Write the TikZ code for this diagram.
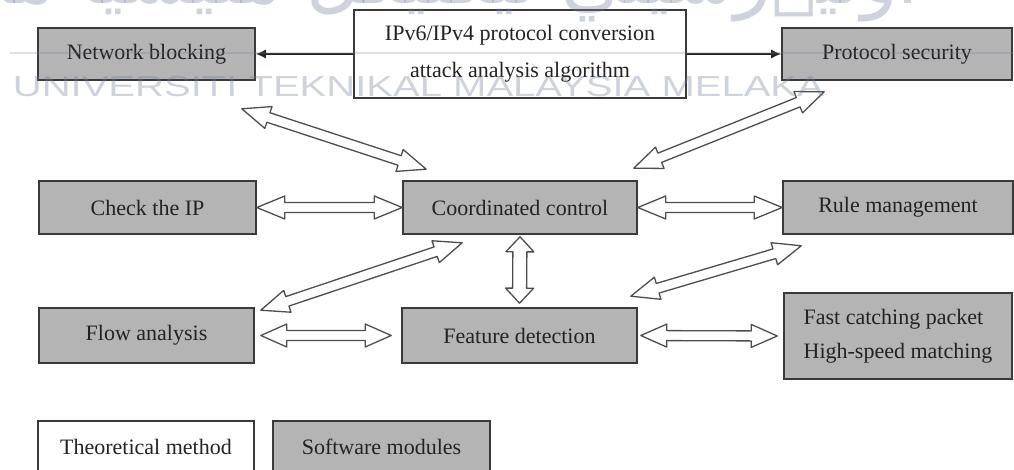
\documentclass[tikz,border=0pt]{standalone}
\usepackage{fontspec}
\setmainfont{Liberation Serif}
\newfontfamily\wmsans{Liberation Sans}
\newfontfamily\jawifont[Script=Arabic]{DejaVu Sans}
\TeXXeTstate=1
\usetikzlibrary{calc,arrows.meta}

\definecolor{boxgrey}{RGB}{180,180,180}
\definecolor{edgegrey}{RGB}{58,58,58}
\definecolor{inkgrey}{RGB}{35,35,35}
\definecolor{arrowline}{RGB}{78,78,78}
\definecolor{wmblue}{RGB}{112,128,160}

\tikzset{
  module/.style={draw=edgegrey, line width=1.6pt, fill=boxgrey, text=inkgrey,
    font=\fontsize{22}{26}\selectfont, inner sep=0pt, minimum height=53pt},
  method/.style={module, fill=white, line width=1.4pt},
  harrow/.style={draw=arrowline, line width=1.3pt, fill=white, line join=round},
  thinarrow/.style={draw=inkgrey, line width=1.4pt, -{Latex[length=10pt,width=9pt]}},
  watermark/.style={text=wmblue, text opacity=0.35},
}

% hollow double-headed arrow between two points:
% #1 start, #2 end, #3 head length, #4 head half width, #5 shaft half width
\newcommand\hollowarrow[5]{%
  \path (#1) coordinate (tA) (#2) coordinate (tB);
  \coordinate (hA) at ($(tA)!#3!(tB)$);
  \coordinate (hB) at ($(tB)!#3!(tA)$);
  \draw[harrow] (tA)
    -- ($(hA)!#4!90:(tB)$) -- ($(hA)!#5!90:(tB)$)
    -- ($(hB)!#5!-90:(tA)$) -- ($(hB)!#4!-90:(tA)$)
    -- (tB)
    -- ($(hB)!#4!90:(tA)$) -- ($(hB)!#5!90:(tA)$)
    -- ($(hA)!#5!-90:(tB)$) -- ($(hA)!#4!-90:(tB)$)
    -- cycle;
}

\begin{document}
\begin{tikzpicture}[x=1pt,y=-1pt]
\useasboundingbox (0,0) rectangle (1014,470);
\clip (0,0) rectangle (1014,470);
\fill[white] (0,0) rectangle (1014,470);

% modules and methods
\node[module, minimum width=217pt, minimum height=52pt] (nb) at (146.5,54) {Network blocking};
\node[method, minimum width=332pt, minimum height=88pt, align=center,
      font=\fontsize{22}{37}\selectfont] (ipv) at (520,54)
      {IPv6/IPv4 protocol conversion\\attack analysis algorithm};
\node[module, minimum width=230pt, minimum height=52pt] (ps) at (897,54) {Protocol security};

\node[module, minimum width=217pt] (chk) at (147.5,207.5) {Check the IP};
\node[module, minimum width=234pt] (cc) at (520,207.5) {Coordinated control};
\node[module, minimum width=230pt] (rm) at (898,207.5) {Rule management};

\node[module, minimum width=215pt, minimum height=55pt] (fa) at (146.5,335.5) {Flow analysis};
\node[module, minimum width=235pt, minimum height=55pt] (fd) at (519.5,335.5) {Feature detection};
\node[module, minimum width=228pt, minimum height=86pt, align=left,
      font=\fontsize{22}{34}\selectfont] (fc) at (898,336)
      {Fast catching packet\\High-speed matching};

% legend
\node[method, minimum width=216pt, minimum height=51pt] (tm) at (146,446.5) {Theoretical method};
\node[module, minimum width=217pt, minimum height=51pt] (sm) at (381.5,446.5) {Software modules};

% conversion algorithm feeds the two top modules
\draw[thinarrow] (ipv.west) -- (nb.east);
\draw[thinarrow] (ipv.east) -- (ps.west);

% hollow two-way links around the coordinator
\hollowarrow{$(nb.south east)+(-14,28)$}{$(cc.north west)+(24,-11)$}{28pt}{11.5pt}{5pt}
\hollowarrow{$(cc.north east)+(-4,-12)$}{$(ps.south west)+(43,11)$}{28pt}{11.5pt}{5pt}
\hollowarrow{chk.east}{cc.west}{28pt}{11.5pt}{5pt}
\hollowarrow{cc.east}{rm.west}{28pt}{11.5pt}{5pt}
\hollowarrow{$(cc.south)+(0,2)$}{$(fd.north)+(0,-4)$}{15pt}{14pt}{7pt}
\hollowarrow{$(fa.north east)+(6,3)$}{$(cc.south west)+(60,8)$}{28pt}{11.5pt}{5pt}
\hollowarrow{$(fd.north east)+(-7,-11)$}{$(rm.south west)+(19,11)$}{28pt}{11.5pt}{5pt}
\hollowarrow{$(fa.east)+(6,0)$}{$(fd.west)+(-10,0)$}{26pt}{11.5pt}{5pt}
\hollowarrow{$(fd.east)+(3,0)$}{$(fc.west)+(-6,0)$}{26pt}{11.5pt}{5pt}

% institutional watermark (Jawi line runs off the top edge)
\draw[wmblue, opacity=0.25, line width=1.2pt] (10,53) -- (1014,53);
\node[watermark, font=\jawifont\fontsize{76}{76}\selectfont, anchor=base] (jw) at (410,4)
  {\beginR اونيۏرسيتي تيكنيكل مليسيا ملاک\endR};
\node[watermark, font=\wmsans\fontsize{29}{29}\selectfont, xscale=1.38, anchor=base west] (wm)
  at (8,97) {UNIVERSITI TEKNIKAL MALAYSIA MELAKA};
\end{tikzpicture}
\end{document}
